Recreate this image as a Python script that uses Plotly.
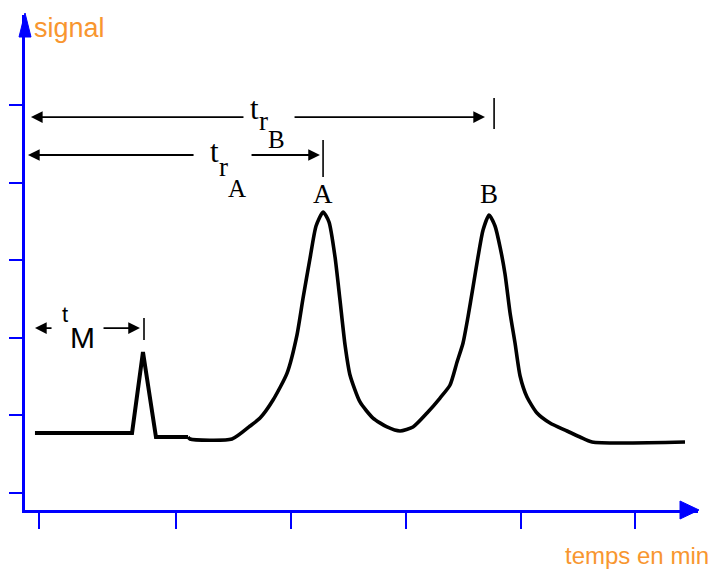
import plotly.graph_objects as go

# ---- chromatogram trace (time in arbitrary minutes, signal in arbitrary units) ----
TIME = [-0.035, 0.809, 0.904, 1.017, 1.296, 1.313, 1.678, 1.835, 1.922, 2.035,
        2.157, 2.243, 2.296, 2.357, 2.409, 2.470, 2.522, 2.574, 2.617, 2.661,
        2.704, 2.791, 2.904, 3.026, 3.139, 3.252, 3.374, 3.487, 3.574, 3.635,
        3.687, 3.730, 3.774, 3.817, 3.861, 3.913, 3.965, 4.009, 4.052, 4.096,
        4.139, 4.183, 4.243, 4.330, 4.443, 4.591, 4.704, 4.809, 5.617]
SIGNAL = [0.773, 0.773, 1.817, 0.722, 0.722, 0.696, 0.696, 0.863, 0.966, 1.198,
          1.546, 2.036, 2.513, 3.028, 3.441, 3.621, 3.492, 3.041, 2.487, 1.907,
          1.521, 1.173, 0.966, 0.851, 0.799, 0.851, 1.031, 1.224, 1.392, 1.688,
          1.933, 2.268, 2.655, 3.041, 3.389, 3.582, 3.441, 3.170, 2.822, 2.320,
          1.933, 1.508, 1.237, 1.031, 0.902, 0.799, 0.722, 0.657, 0.657]
SPLIT = 4  # the sharp dead-time spike ends here; the rest is drawn smoothed

X_TICKS = [0, 1.19, 2.19, 3.19, 4.19, 5.18]
Y_TICKS = [0, 1, 2, 3, 4, 5]
X_RANGE = [-0.1217, 5.730]
Y_RANGE = [-0.219, 6.160]

# retention-time dimension lines
DIM_NAMES = ["tM", "trA", "trB"]
DIM_ROW_Y = [2.126, 4.356, 4.845]
DIM_BAR_X = [0.913, 2.470, 3.957]
DIM_BAR_LO = [1.972, 4.072, 4.691]
DIM_BAR_HI = [2.255, 4.549, 5.090]
DIM_LEFT_START = [0.122, 1.357, 1.791]
DIM_LEFT_TIP = [-0.035, -0.096, -0.070]
DIM_RIGHT_START = [0.548, 1.835, 2.209]
DIM_RIGHT_TIP = [0.878, 2.443, 3.878]

# label pieces: text, x, y, font family, size
LABEL_TEXT = ["t", "M", "t", "r", "A", "t", "r", "B", "A", "B"]
LABEL_X = [0.226, 0.380, 1.522, 1.600, 1.722, 1.870, 1.948, 2.061, 2.470, 3.913]
LABEL_Y = [2.300, 2.010, 4.400, 4.200, 3.920, 4.960, 4.800, 4.560, 3.853, 3.853]
LABEL_FONT = ["Liberation Sans", "Liberation Sans", "Liberation Serif", "Liberation Serif",
              "Liberation Serif", "Liberation Serif", "Liberation Serif", "Liberation Serif",
              "Liberation Serif", "Liberation Serif"]
LABEL_SIZE = [22, 30, 31, 27, 25, 31, 27, 25, 27, 27]

AXIS_BLUE = "#0000FF"
ORANGE = "#F8962F"

W, H = 711, 570
ML, MR, MT, MB = 25, 13, 15, 60

fig = go.Figure()
fig.add_trace(go.Scatter(x=TIME[:SPLIT + 1], y=SIGNAL[:SPLIT + 1], mode="lines",
                         line=dict(color="black", width=4),
                         hoverinfo="skip", showlegend=False))
fig.add_trace(go.Scatter(x=TIME[SPLIT:], y=SIGNAL[SPLIT:], mode="lines",
                         line=dict(color="black", width=3.6, shape="spline", smoothing=0.6),
                         hoverinfo="skip", showlegend=False))

shapes = []
annotations = []

for i in range(len(DIM_NAMES)):
    y = DIM_ROW_Y[i]
    shapes.append(dict(type="line", xref="x", yref="y",
                       x0=DIM_BAR_X[i], x1=DIM_BAR_X[i],
                       y0=DIM_BAR_LO[i], y1=DIM_BAR_HI[i],
                       line=dict(color="black", width=1.6)))
    for start, tip in ((DIM_LEFT_START[i], DIM_LEFT_TIP[i]),
                       (DIM_RIGHT_START[i], DIM_RIGHT_TIP[i])):
        annotations.append(dict(x=tip, y=y, ax=start, ay=y,
                                xref="x", yref="y", axref="x", ayref="y",
                                text="", showarrow=True, arrowhead=2,
                                arrowsize=1.3, arrowwidth=1.8, arrowcolor="black"))

for t, x, y, f, s in zip(LABEL_TEXT, LABEL_X, LABEL_Y, LABEL_FONT, LABEL_SIZE):
    annotations.append(dict(x=x, y=y, xref="x", yref="y", text=t, showarrow=False,
                            xanchor="center", yanchor="middle", borderpad=0,
                            font=dict(family=f, size=s, color="black")))

pw = W - ML - MR
ph = H - MT - MB
def px2paper(px, py):
    return (px - ML) / pw, (H - MB - py) / ph

sx, sy = px2paper(32, 28)
annotations.append(dict(x=sx, y=sy, xref="paper", yref="paper", text="signal",
                        showarrow=False, xanchor="left", yanchor="middle",
                        font=dict(family="Liberation Sans", size=27, color=ORANGE)))
tx, ty = px2paper(711, 555)
annotations.append(dict(x=tx, y=ty, xref="paper", yref="paper", text="temps en min",
                        showarrow=False, xanchor="right", yanchor="middle",
                        font=dict(family="Liberation Sans", size=24, color=ORANGE)))

ax_tip = px2paper(25, 13)
ax_b1 = px2paper(19, 37)
ax_b2 = px2paper(31, 37)
shapes.append(dict(type="path", xref="paper", yref="paper",
                   path=f"M {ax_tip[0]} {ax_tip[1]} L {ax_b1[0]} {ax_b1[1]} L {ax_b2[0]} {ax_b2[1]} Z",
                   fillcolor=AXIS_BLUE, line=dict(color=AXIS_BLUE, width=1)))
xt = px2paper(699, 510)
xb1 = px2paper(680, 501)
xb2 = px2paper(680, 519)
shapes.append(dict(type="path", xref="paper", yref="paper",
                   path=f"M {xt[0]} {xt[1]} L {xb1[0]} {xb1[1]} L {xb2[0]} {xb2[1]} Z",
                   fillcolor=AXIS_BLUE, line=dict(color=AXIS_BLUE, width=1)))

fig.update_layout(
    width=W, height=H,
    margin=dict(l=ML, r=MR, t=MT, b=MB),
    paper_bgcolor="white", plot_bgcolor="white",
    shapes=shapes, annotations=annotations,
    xaxis=dict(range=X_RANGE, showgrid=False, zeroline=False, showline=True,
               linecolor=AXIS_BLUE, linewidth=3, ticks="outside", ticklen=16,
               tickwidth=2, tickcolor=AXIS_BLUE, tickvals=X_TICKS,
               showticklabels=False),
    yaxis=dict(range=Y_RANGE, showgrid=False, zeroline=False, showline=True,
               linecolor=AXIS_BLUE, linewidth=3, ticks="outside", ticklen=13,
               tickwidth=2, tickcolor=AXIS_BLUE, tickvals=Y_TICKS,
               showticklabels=False),
)

fig.write_html("out.html")
